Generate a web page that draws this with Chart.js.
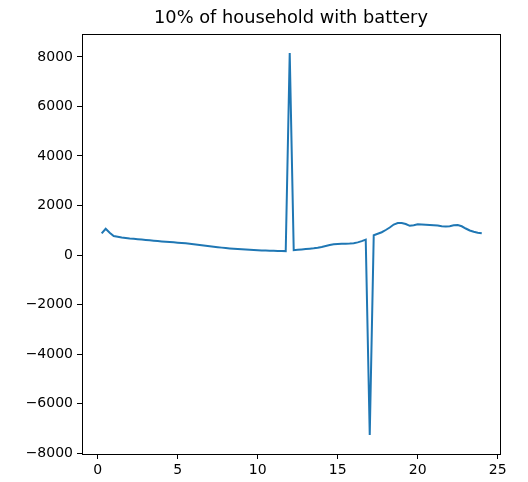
<!DOCTYPE html>
<html>
<head>
<meta charset="utf-8">
<script src="https://cdn.jsdelivr.net/npm/chart.js@4.4.1/dist/chart.umd.min.js"></script>
<style>
  html,body{margin:0;padding:0;background:#fff;}
  #wrap{width:528px;height:482px;}
</style>
</head>
<body>
<div id="wrap"><canvas id="c" width="528" height="482"></canvas></div>
<script>
/* ---------------- data ---------------- */

const titleText = "10% of household with battery";

// hours, every 15 min
const hours = [
  0.25,0.5,0.75,1,1.25,1.5,1.75,2,2.25,2.5,2.75,3,
  3.25,3.5,3.75,4,4.25,4.5,4.75,5,5.25,5.5,5.75,6,
  6.25,6.5,6.75,7,7.25,7.5,7.75,8,8.25,8.5,8.75,9,
  9.25,9.5,9.75,10,10.25,10.5,10.75,11,11.25,11.5,11.75,12,
  12.25,12.5,12.75,13,13.25,13.5,13.75,14,14.25,14.5,14.75,15,
  15.25,15.5,15.75,16,16.25,16.5,16.75,17,17.25,17.5,17.75,18,
  18.25,18.5,18.75,19,19.25,19.5,19.75,20,20.25,20.5,20.75,21,
  21.25,21.5,21.75,22,22.25,22.5,22.75,23,23.25,23.5,23.75,24
];

const load = [
  870,1060,900,770,740,710,690,670,655,640,625,610,
  595,580,565,550,537,524,511,498,485,470,452,432,
  412,392,372,352,333,315,298,282,266,252,240,228,
  218,208,200,192,185,179,173,168,164,160,157,8160,
  195,210,225,240,255,270,290,320,360,400,430,445,
  452,456,462,475,510,560,620,-7270,800,860,920,1010,
  1110,1230,1290,1290,1250,1180,1200,1240,1235,1225,1215,1205,
  1190,1165,1155,1165,1205,1210,1160,1070,990,940,900,880
];

const xTicks = [0,5,10,15,20,25];
const yTicks = [-8000,-6000,-4000,-2000,0,2000,4000,6000,8000];

/* ---------------- helpers ---------------- */

const tickFont = {family:"DejaVu Sans", size:14};

function fixTicks(list){
  return function(scale){
    scale.ticks = list.map(v => ({value:v}));
  };
}

// matplotlib style frame + title
const framePlugin = {
  id:"frame",
  afterDraw(chart){
    const a = chart.chartArea;
    const ctx = chart.ctx;
    ctx.save();
    ctx.strokeStyle = "#000";
    ctx.lineWidth = 1;
    ctx.strokeRect(Math.round(a.left)+0.5, Math.round(a.top)+0.5,
                   Math.round(a.right-a.left), Math.round(a.bottom-a.top));
    ctx.fillStyle = "#000";
    ctx.font = "17.8px 'DejaVu Sans'";
    ctx.textAlign = "center";
    ctx.textBaseline = "middle";
    ctx.fillText(titleText, (a.left+a.right)/2, 18);
    ctx.restore();
  }
};

/* ---------------- chart ---------------- */

const points = hours.map((h,i) => ({x:h, y:load[i]}));

new Chart(document.getElementById("c"),{
  type:"line",
  data:{
    datasets:[{
      data:points,
      borderColor:"#1f77b4",
      borderWidth:2,
      pointRadius:0,
      tension:0,
      fill:false
    }]
  },
  options:{
    responsive:false,
    animation:false,
    layout:{padding:{top:34,right:28,left:0,bottom:0}},
    plugins:{legend:{display:false},tooltip:{enabled:false},title:{display:false}},
    scales:{
      x:{
        type:"linear",
        min:-0.98, max:25.14,
        afterBuildTicks:fixTicks(xTicks),
        afterFit(scale){ scale.height = 28; },
        grid:{display:true,drawOnChartArea:false,drawTicks:true,tickLength:5,color:"#000"},
        border:{display:true,color:"#000",width:1},
        ticks:{color:"#000",font:tickFont,padding:3,maxRotation:0,autoSkip:false}
      },
      y:{
        type:"linear",
        min:-8040, max:8929,
        afterBuildTicks:fixTicks(yTicks),
        afterFit(scale){ scale.width = 82; },
        grid:{display:true,drawOnChartArea:false,drawTicks:true,tickLength:5,color:"#000"},
        border:{display:true,color:"#000",width:1},
        ticks:{
          color:"#000",font:tickFont,padding:4,autoSkip:false,
          callback:v => (v<0 ? "\u2212"+Math.abs(v) : String(v))
        }
      }
    }
  },
  plugins:[framePlugin]
});
</script>
</body>
</html>
